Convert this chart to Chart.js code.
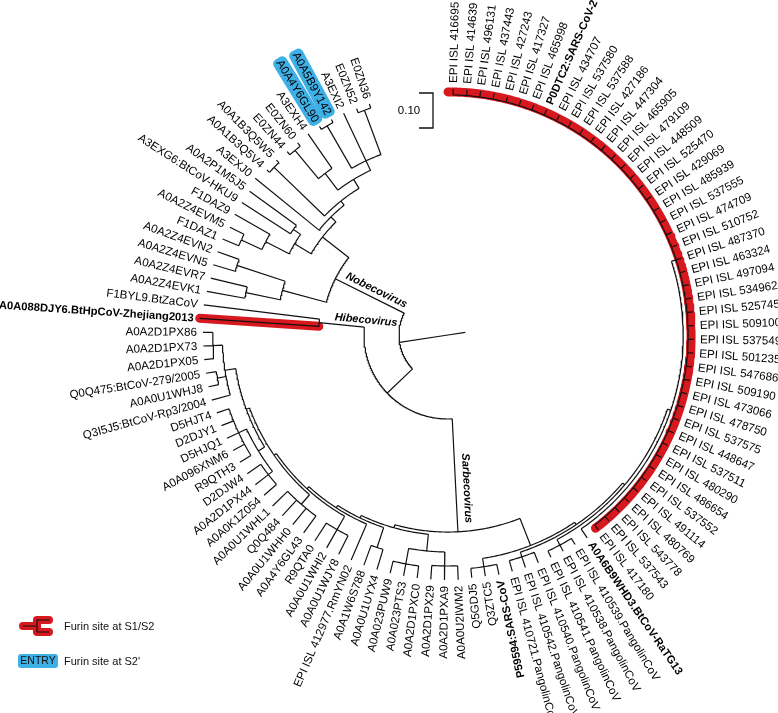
<!DOCTYPE html>
<html>
<head>
<meta charset="utf-8">
<title>Spike protein tree - furin sites</title>
<script src="https://cdn.jsdelivr.net/npm/chart.js@4.4.1/dist/chart.umd.min.js"></script>
<style>
  html, body { margin: 0; padding: 0; background: #fff; }
  #wrap { position: relative; width: 778px; height: 713px; }
</style>
</head>
<body>
<div id="wrap"><canvas id="treeChart" width="778" height="713"></canvas></div>
<script>
// ---------- tree data ----------

// leaf names, clockwise from the top
const leafNames = [
  "EPI ISL 416695", "EPI ISL 414639", "EPI ISL 496131", "EPI ISL 437443", "EPI ISL 427243",
  "EPI ISL 417327", "EPI ISL 465998", "P0DTC2:SARS-CoV-2", "EPI ISL 434707", "EPI ISL 537580",
  "EPI ISL 537588", "EPI ISL 427186", "EPI ISL 447304", "EPI ISL 465905", "EPI ISL 479109",
  "EPI ISL 448509", "EPI ISL 525470", "EPI ISL 429069", "EPI ISL 485939", "EPI ISL 537555",
  "EPI ISL 474709", "EPI ISL 510752", "EPI ISL 487370", "EPI ISL 463324", "EPI ISL 497094",
  "EPI ISL 534962", "EPI ISL 525745", "EPI ISL 509100", "EPI ISL 537549", "EPI ISL 501235",
  "EPI ISL 547686", "EPI ISL 509190", "EPI ISL 473066", "EPI ISL 478750", "EPI ISL 537575",
  "EPI ISL 448647", "EPI ISL 537511", "EPI ISL 480290", "EPI ISL 486654", "EPI ISL 537552",
  "EPI ISL 491114", "EPI ISL 480769", "EPI ISL 543778", "EPI ISL 537543", "EPI ISL 417180",
  "A0A6B9WHD3.BtCoV-RaTG13", "EPI ISL 410539.PangolinCoV", "EPI ISL 410538.PangolinCoV",
  "EPI ISL 410541.PangolinCoV", "EPI ISL 410540.PangolinCoV", "EPI ISL 410542.PangolinCoV",
  "EPI ISL 410721.PangolinCoV", "P59594:SARS-CoV", "Q3ZTC5", "Q5GDJ5",
  "A0A0U2IWM2", "A0A2D1PXA9", "A0A2D1PX29", "A0A2D1PXC0", "A0A023PTS3",
  "A0A023PUW9", "A0A0U1UYX4", "A0A1W6S788", "EPI ISL 412977.RmYN02", "A0A0U1WJY8",
  "A0A0U1WHI2", "R9QTA0", "A0A4Y6GL43", "A0A0U1WHH0", "Q0Q484",
  "A0A0U1WHL1", "A0A0K1Z054", "A0A2D1PX44", "D2DJW4", "R9QTH3",
  "A0A096XNM6", "D5HJQ1", "D2DJY1", "D5HJT4", "Q3I5J5:BtCoV-Rp3/2004",
  "A0A0U1WHJ8", "Q0Q475:BtCoV-279/2005", "A0A2D1PX05", "A0A2D1PX73", "A0A2D1PX86",
  "A0A088DJY6.BtHpCoV-Zhejiang2013", "F1BYL9.BtZaCoV", "A0A2Z4EVK1", "A0A2Z4EVR7", "A0A2Z4EVN5",
  "A0A2Z4EVN2", "F1DAZ1", "A0A2Z4EVM5", "F1DAZ9", "A3EXG6:BtCoV-HKU9",
  "A0A2P1M5J5", "A3EXJ0", "A0A1B3Q5V4", "A0A1B3Q5W5", "E0ZN44",
  "E0ZN60", "A3EXH4", "A0A4Y6GL90", "A0A5B9Y142", "A3EXI2",
  "E0ZN52", "E0ZN36"
];

const boldLeaves = [7, 45, 52, 85];
const furinS1S2 = [[0, 44], [85, 85]];   // red marks
const furinS2 = [102, 103];               // ENTRY boxes
const cladeNames = ["Nobecovirus", "Hibecovirus", "Sarbecovirus"];
const cladeLeaves = [[87, 106], [85, 86], [0, 84]];
const legendTexts = ["Furin site at S1/S2", "Furin site at S2'"];
const scaleBarValue = 0.10;
const rootStub = 0.05;

// topology with branch lengths (leaves are indexes into leafNames)
const treeNewick = `
((
  ((((((0:.017,1:.017,2:.017,3:.017,4:.017,5:.017,6:.017,7:.017,8:.017,9:.017,
        10:.017,11:.017,12:.017,13:.017,14:.017,15:.017,16:.017,17:.017,18:.017,19:.017,
        20:.017,21:.017,22:.017,23:.017,24:.017,25:.017,26:.017,27:.017,28:.017,29:.017,
        30:.017,31:.017,32:.017,33:.017,34:.017,35:.017,36:.017,37:.017,38:.017,39:.017,
        40:.017,41:.017,42:.017,43:.017,44:.017):.014,
       45:.031):.010,
      (46:.02,47:.02,48:.02):.018):.008,
     (49:.032,50:.032,51:.032):.014):.008,
    (52:.03,53:.027,54:.027):.024):.083,
   (((55:.04,56:.04,57:.04):.04,(58:.035,59:.035,60:.035):.045):.048,
    ((61:.06,62:.06):.06,
     (63:.112,
      ((64:.06,65:.06,66:.06):.044,
       ((67:.06,68:.06,69:.06,70:.06):.036,
        (((71:.047,72:.047,73:.047):.015,(74:.037,75:.037,76:.037,77:.037,78:.037):.025):.021,
         (79:.055,(80:.03,81:.03):.025,(82:.028,83:.028,84:.028):.027):.031):.01
       ):.008
      ):.008
     ):.008
    ):.008
   ):.009
  ):.323,
  (85:.341,86:.333):.13
 ):.10,
 (((87:.11,88:.107):.10,(89:.065,90:.065):.145):.13,
  ((((91:.05,92:.045):.065,93:.115):.075,(94:.165,95:.165):.025):.055,
   (96:.235,((97:.01,98:.01):.2,(((99:.012,100:.012):.105,101:.12):.06,((102:.01,103:.01):.14,104:.15,(105:.012,106:.012):.135):.03):.03):.015):.02
  ):.095
 ):.22
):.14;`;

// ---------- layout settings ----------
const PX_PER_UNIT = 350;
const CX = 448, CY = 335;          // tree centre on the canvas
const START_ANGLE = 271.2;         // degrees, clockwise from 3 o'clock
const ANGLE_STEP = 340 / (leafNames.length - 1);
const FLIP_FROM = 76.5;            // labels in [76.5,256.5) are turned round
const LABEL_GAP = 6;
const LEAF_FONT = '11.6px "Liberation Sans", Arial, sans-serif';
const BOLD_FONT = 'bold 11.2px "Liberation Sans", Arial, sans-serif';
const cladeLabelPos = [{ along: 0.24, off: 8 }, { along: 0.237, off: 7 }, { along: 0.44, off: -11 }];

// ---------- newick ----------
function parseNewick(s) {
  s = s.replace(/\s+/g, "");
  let pos = 0;
  function node() {
    const n = { children: [], len: 0, leaf: null };
    if (s[pos] === "(") {
      pos++;
      n.children.push(node());
      while (s[pos] === ",") { pos++; n.children.push(node()); }
      pos++;
    } else {
      let t = "";
      while (/[0-9]/.test(s[pos])) t += s[pos++];
      n.leaf = +t;
    }
    if (s[pos] === ":") {
      pos++;
      let t = "";
      while (/[0-9.eE-]/.test(s[pos])) t += s[pos++];
      n.len = +t;
    }
    return n;
  }
  return node();
}

const root = parseNewick(treeNewick);
const leaves = [];
const inner = [];

function layout(n, parentDepth, parent) {
  n.parent = parent;
  n.depth = parentDepth + n.len;
  if (n.leaf !== null) {
    n.ang = START_ANGLE + n.leaf * ANGLE_STEP;
    n.lo = n.hi = n.leaf;
    leaves.push(n);
    return;
  }
  n.children.forEach(c => layout(c, n.depth, n));
  const first = n.children[0], last = n.children[n.children.length - 1];
  n.ang = (first.ang + last.ang) / 2;
  n.lo = first.lo; n.hi = last.hi;
  inner.push(n);
}
layout(root, 0, null);

function pt(d, a) {
  const r = a * Math.PI / 180;
  return { x: d * Math.cos(r), y: -d * Math.sin(r) };
}
const GAP = { x: null, y: null };

function arcPts(d, a0, a1, out) {
  for (let a = a0; a < a1; a += 0.5) out.push(pt(d, a));
  out.push(pt(d, a1));
}

// branches: radial line for each node, arc for each internal node
const branchPts = [];
branchPts.push(pt(rootStub, root.ang + 180), pt(0, root.ang), pt(root.depth, root.ang), GAP);
function walk(n) {
  if (n.parent) branchPts.push(pt(n.parent.depth, n.ang), pt(n.depth, n.ang), GAP);
  if (n.children.length) {
    arcPts(n.depth, n.children[0].ang, n.children[n.children.length - 1].ang, branchPts);
    branchPts.push(GAP);
    n.children.forEach(walk);
  }
}
walk(root);

function findNode(lo, hi) {
  if (lo === hi) return leaves.find(l => l.leaf === lo);
  return inner.find(n => n.lo === lo && n.hi === hi);
}

// red marks for furin site at S1/S2
const furinPts = [];
furinS1S2.forEach(([lo, hi]) => {
  const n = findNode(lo, hi);
  if (n.leaf !== null) {
    furinPts.push(pt(n.parent.depth, n.ang), pt(n.depth, n.ang), GAP);
  } else {
    const tip = leaves.find(l => l.leaf === lo).depth;
    arcPts((n.depth + tip) / 2, n.children[0].ang - 1.2, n.children[n.children.length - 1].ang + 0.3, furinPts);
    furinPts.push(GAP);
  }
});

// ---------- text, scale bar, legend ----------
function boxPath(ctx, x, y, w, h, r) {
  ctx.beginPath();
  ctx.moveTo(x + r, y);
  ctx.arcTo(x + w, y, x + w, y + h, r);
  ctx.arcTo(x + w, y + h, x, y + h, r);
  ctx.arcTo(x, y + h, x, y, r);
  ctx.arcTo(x, y, x + w, y, r);
  ctx.closePath();
}

const treeText = {
  id: "treeText",
  afterDatasetsDraw(chart) {
    const { ctx } = chart;
    const sx = chart.scales.x, sy = chart.scales.y;
    const toPx = (d, a) => { const p = pt(d, a); return [sx.getPixelForValue(p.x), sy.getPixelForValue(p.y)]; };
    ctx.save();
    ctx.textBaseline = "middle";

    // leaf labels
    leaves.forEach(n => {
      const [px, py] = toPx(n.depth, n.ang);
      const a = ((n.ang % 360) + 360) % 360;
      const flip = a >= FLIP_FROM && a < FLIP_FROM + 180;
      const name = leafNames[n.leaf];
      ctx.save();
      ctx.translate(px, py);
      ctx.rotate((flip ? a - 180 : a) * Math.PI / 180);
      ctx.font = boldLeaves.includes(n.leaf) ? BOLD_FONT : LEAF_FONT;
      const w = ctx.measureText(name).width;
      const x0 = flip ? -LABEL_GAP - w : LABEL_GAP;
      if (furinS2.includes(n.leaf)) {
        ctx.fillStyle = "#3fb0e6";
        boxPath(ctx, x0 - 3, -7.5, w + 6, 15, 5);
        ctx.fill();
      }
      ctx.fillStyle = "#000";
      ctx.textAlign = "left";
      ctx.fillText(name, x0, 0.5);
      ctx.restore();
    });

    // clade names along their stem branch
    ctx.font = 'italic bold 11px "Liberation Sans", Arial, sans-serif';
    cladeNames.forEach((name, i) => {
      const n = findNode(cladeLeaves[i][0], cladeLeaves[i][1]);
      const pos = cladeLabelPos[i];
      let [px, py] = toPx(pos.along, n.ang);
      const a = ((n.ang % 360) + 360) % 360;
      const r = a * Math.PI / 180;
      px += -Math.sin(r) * pos.off;
      py += Math.cos(r) * pos.off;
      const flip = a > 90 && a < 270;
      ctx.save();
      ctx.translate(px, py);
      ctx.rotate((flip ? a - 180 : a) * Math.PI / 180);
      ctx.fillStyle = "#000";
      ctx.textAlign = "center";
      ctx.fillText(name, 0, 0);
      ctx.restore();
    });

    // scale bar
    const barLen = Math.abs(sy.getPixelForValue(scaleBarValue) - sy.getPixelForValue(0));
    const bx = 433, by = 93;
    ctx.strokeStyle = "#111";
    ctx.lineWidth = 1.3;
    ctx.beginPath();
    ctx.moveTo(bx - 14, by); ctx.lineTo(bx, by); ctx.lineTo(bx, by + barLen); ctx.lineTo(bx - 14, by + barLen);
    ctx.stroke();
    ctx.font = '11.5px "Liberation Sans", Arial, sans-serif';
    ctx.fillStyle = "#000";
    ctx.textAlign = "center";
    ctx.fillText(scaleBarValue.toFixed(2), 409, by + barLen / 2);

    // legend
    ctx.lineCap = "round";
    ctx.lineJoin = "round";
    const drawIcon = (w, c) => {
      ctx.strokeStyle = c; ctx.lineWidth = w;
      ctx.beginPath(); ctx.moveTo(23, 626); ctx.lineTo(36, 626); ctx.stroke();
      ctx.beginPath(); ctx.moveTo(49, 620); ctx.lineTo(37, 620); ctx.lineTo(37, 632); ctx.lineTo(49, 632); ctx.stroke();
    };
    drawIcon(8, "#d7191f");
    drawIcon(1.2, "#111");
    ctx.fillStyle = "#3fb0e6";
    boxPath(ctx, 18, 654, 40, 14, 3);
    ctx.fill();
    ctx.fillStyle = "#111";
    ctx.font = '10.5px "Liberation Sans", Arial, sans-serif';
    ctx.textAlign = "center";
    ctx.fillText("ENTRY", 38, 661.5);
    ctx.font = '11px "Liberation Sans", Arial, sans-serif';
    ctx.textAlign = "left";
    ctx.fillText(legendTexts[0], 64, 626.5);
    ctx.fillText(legendTexts[1], 64, 661.5);
    ctx.restore();
  }
};

// ---------- chart ----------
const ctx = document.getElementById("treeChart").getContext("2d");
new Chart(ctx, {
  type: "scatter",
  data: {
    datasets: [
      {
        label: "furin S1/S2",
        data: furinPts,
        showLine: true,
        spanGaps: false,
        borderColor: "#d7191f",
        borderWidth: 9,
        borderCapStyle: "round",
        borderJoinStyle: "round",
        pointRadius: 0,
        order: 2
      },
      {
        label: "branches",
        data: branchPts,
        showLine: true,
        spanGaps: false,
        borderColor: "#111",
        borderWidth: 1.2,
        pointRadius: 0,
        order: 1
      }
    ]
  },
  options: {
    responsive: false,
    animation: false,
    devicePixelRatio: 1,
    layout: { padding: 0 },
    scales: {
      x: { type: "linear", display: false, min: -CX / PX_PER_UNIT, max: (778 - CX) / PX_PER_UNIT },
      y: { type: "linear", display: false, min: -(713 - CY) / PX_PER_UNIT, max: CY / PX_PER_UNIT }
    },
    plugins: { legend: { display: false }, tooltip: { enabled: false } },
    events: []
  },
  plugins: [treeText]
});
</script>
</body>
</html>
